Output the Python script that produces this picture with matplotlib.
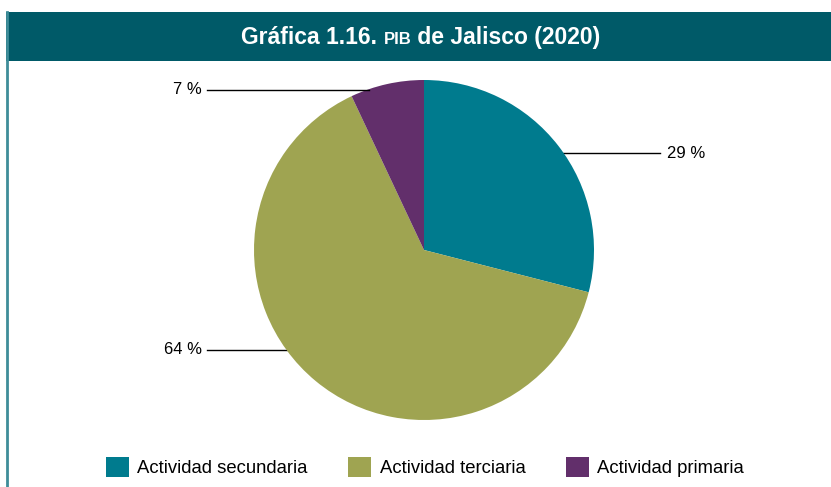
import matplotlib
matplotlib.use("Agg")
import matplotlib.pyplot as plt
from matplotlib.patches import Rectangle, Patch
from matplotlib.lines import Line2D
import numpy as np

categories = ["Actividad secundaria", "Actividad terciaria", "Actividad primaria"]
values = [29, 64, 7]
labels = ["29 %", "64 %", "7 %"]
colors = ["#007b8e", "#9fa451", "#622f6b"]

W, H = 831, 487
fig = plt.figure(figsize=(W / 100, H / 100), dpi=100)
fig.patch.set_facecolor("white")

# header bar
fig.patches.append(Rectangle((6 / W, 1 - 61 / H), 1 - 6 / W, 49 / H,
                             transform=fig.transFigure, facecolor="#005a68",
                             edgecolor="none", zorder=0))
# left border
fig.add_artist(Line2D([6.5 / W, 6.5 / W], [0, 1 - 12 / H], transform=fig.transFigure,
                      color="#3f8d99", lw=2))

renderer = fig.canvas.get_renderer()
fam = ["Liberation Sans Narrow", "Liberation Sans", "DejaVu Sans"]
pieces = [("Gráfica 1.16. ", 16.5), ("PIB", 12), (" de Jalisco (2020)", 16.5)]
tmp = []
total = 0
for s, fs in pieces:
    tt = fig.text(0, 0, s, fontsize=fs, fontweight="bold", family=fam, color="white")
    w = tt.get_window_extent(renderer).width
    tmp.append((tt, w))
    total += w
x = 421 - total / 2
for tt, w in tmp:
    tt.set_position((x / W, 1 - 44 / H))
    tt.set_va("baseline")
    x += w

# pie
cx, cy, r = 424, 250, 170
ax = fig.add_axes([(cx - r) / W, (H - cy - r) / H, 2 * r / W, 2 * r / H])
wedges, _ = ax.pie(values, colors=colors, startangle=90, counterclock=False,
                   radius=1, wedgeprops=dict(linewidth=0))
ax.set_xlim(-1, 1)
ax.set_ylim(-1, 1)
ax.set_aspect("equal")
ax.axis("off")

# label layout: (label index, y px, side, outer x px, text x px)
layout = [(0, 153, "right", 660, 667), (2, 90, "left", 207, 202), (1, 350, "left", 207, 202)]
for idx, py, side, ox, tx in layout:
    yd = (cy - py) / r
    edge = np.sqrt(max(1 - yd ** 2, 0))
    if side == "right":
        x0 = edge * 0.97
        ha = "left"
    else:
        x0 = -edge * 0.97 if idx == 1 else (369 - cx) / r
        ha = "right"
    x1 = (ox - cx) / r
    ax.plot([x0, x1], [yd, yd], color="black", lw=1, clip_on=False,
            zorder=3 if idx == 2 else 0.5)
    ax.text((tx - cx) / r, yd, labels[idx], ha=ha, va="center", fontsize=12,
            family=["Liberation Sans", "DejaVu Sans"], clip_on=False)

# legend
handles = [Patch(facecolor=c, edgecolor="none") for c in colors]
fig.legend(handles, categories, loc="center", bbox_to_anchor=(425 / W, 20 / H),
           ncol=3, frameon=False, handlelength=1.25, handleheight=1.35,
           handletextpad=0.45, columnspacing=2.2,
           prop=dict(family=["Liberation Sans Narrow", "Liberation Sans", "DejaVu Sans"], size=13.3))

fig.savefig("out.png", dpi=100)
